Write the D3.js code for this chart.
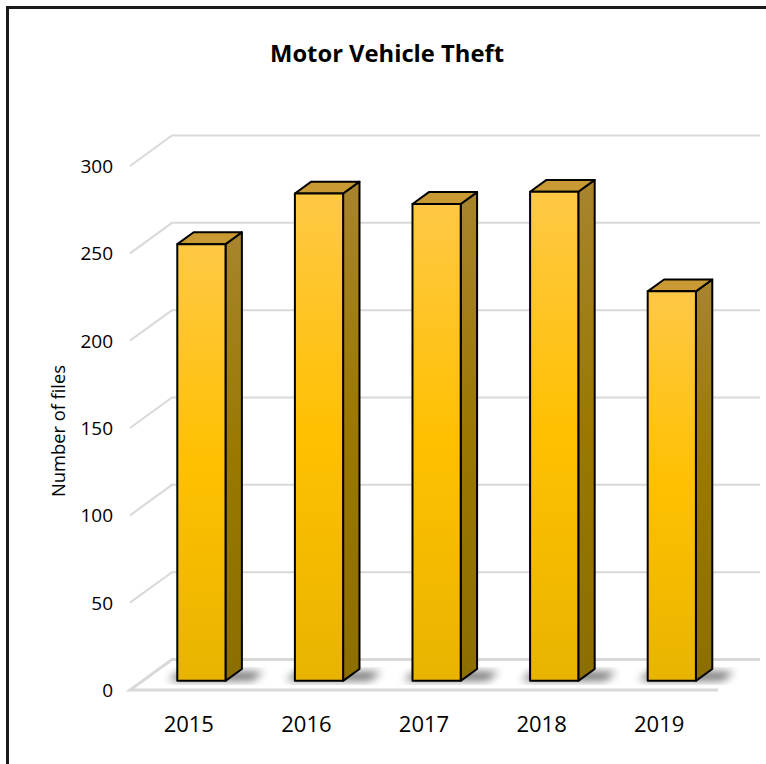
<!DOCTYPE html>
<html>
<head>
<meta charset="utf-8">
<script src="https://cdn.jsdelivr.net/npm/d3@7"></script>
<style>
  html, body { margin: 0; padding: 0; background: #fff; }
  svg { display: block; font-family: "Open Sans", "Noto Sans", sans-serif; }
</style>
</head>
<body>
<svg id="chart" width="766" height="764"></svg>
<script>
// Motor vehicle theft files per year
const years = ["2015", "2016", "2017", "2018", "2019"];
const files = [250, 279, 273, 280, 223];
const yTicks = [0, 50, 100, 150, 200, 250, 300];
const chartTitle = "Motor Vehicle Theft";
const yAxisTitle = "Number of files";

const svg = d3.select("#chart");

// Oblique 3D layout: floor front edge, wall depth offset
const floorLeft = 130, floorWidth = 588;
const depthX = 42, depthY = 30.5;

const y = d3.scaleLinear().domain([0, 300]).range([690, 166]);
const x = d3.scaleBand().domain(years).range([0, floorWidth]).padding(0);

// project (horizontal position, depth 0..1, value) to screen
const P = (h, d, v) => [floorLeft + h + d * depthX, y(v) - d * depthY];

const defs = svg.append("defs");

const frontGrad = defs.append("linearGradient").attr("id", "frontGrad")
  .attr("x1", 0).attr("y1", 0).attr("x2", 0).attr("y2", 1);
frontGrad.append("stop").attr("offset", "0%").attr("stop-color", "#ffc845");
frontGrad.append("stop").attr("offset", "50%").attr("stop-color", "#ffc000");
frontGrad.append("stop").attr("offset", "100%").attr("stop-color", "#e8b400");

const sideGrad = defs.append("linearGradient").attr("id", "sideGrad")
  .attr("x1", 0).attr("y1", 0).attr("x2", 0).attr("y2", 1);
sideGrad.append("stop").attr("offset", "0%").attr("stop-color", "#a8842e");
sideGrad.append("stop").attr("offset", "50%").attr("stop-color", "#9a7800");
sideGrad.append("stop").attr("offset", "100%").attr("stop-color", "#8c6e00");

defs.append("filter").attr("id", "shadowBlur")
  .attr("x", "-50%").attr("y", "-50%").attr("width", "200%").attr("height", "200%")
  .append("feGaussianBlur").attr("stdDeviation", 4.5);

// Outer frame
svg.append("rect")
  .attr("x", 7.5).attr("y", 7.5).attr("width", 900).attr("height", 900)
  .attr("fill", "none").attr("stroke", "#1a1a1a").attr("stroke-width", 3);

const line = d3.line();
const grid = svg.append("g").attr("fill", "none").attr("stroke", "#d9d9d9");

// Wall gridlines: side-wall diagonal + back-wall horizontal
yTicks.forEach(t => {
  if (t === 0) return;
  grid.append("path")
    .attr("stroke-width", 2)
    .attr("d", line([P(0, 0, t), P(0, 1, t), P(floorWidth, 1, t)]));
});

// Floor outline
grid.append("path").attr("stroke-width", 3)
  .attr("d", line([P(floorWidth, 1, 0), P(0, 1, 0), P(0, 0, 0), P(floorWidth, 0, 0)]));

// Bars
const barFrac = 0.41;
const d0 = 0.3, d1 = 0.69;
const bars = svg.append("g");

years.forEach((yr, i) => {
  const v = files[i];
  const bw = x.bandwidth() * barFrac;
  const h0 = x(yr) + (x.bandwidth() - bw) / 2;
  const h1 = h0 + bw;

  // soft floor shadow
  bars.append("path")
    .attr("d", line([P(h0 - 10, d0 + 0.02, 0), P(h1 + 26, d0 + 0.02, 0),
                     P(h1 + 26, d1 - 0.1, 0), P(h0 - 10, d1 - 0.1, 0)]) + "Z")
    .attr("fill", "#000").attr("opacity", 0.6)
    .attr("filter", "url(#shadowBlur)");

  const g = bars.append("g")
    .attr("stroke", "#000").attr("stroke-width", 2).attr("stroke-linejoin", "round");

  // side face
  g.append("path")
    .attr("d", line([P(h1, d0, 0), P(h1, d1, 0), P(h1, d1, v), P(h1, d0, v)]) + "Z")
    .attr("fill", "url(#sideGrad)");
  // top face
  g.append("path")
    .attr("d", line([P(h0, d0, v), P(h1, d0, v), P(h1, d1, v), P(h0, d1, v)]) + "Z")
    .attr("fill", "#c99a33");
  // front face
  const [fx0, fy0] = P(h0, d0, v);
  const [fx1, fy1] = P(h1, d0, 0);
  g.append("rect")
    .attr("x", fx0).attr("y", fy0)
    .attr("width", fx1 - fx0).attr("height", fy1 - fy0)
    .attr("fill", "url(#frontGrad)");
});

// Y axis tick labels
svg.append("g")
  .selectAll("text").data(yTicks).join("text")
  .attr("x", 113)
  .attr("y", d => y(d))
  .attr("text-anchor", "end")
  .attr("dominant-baseline", "central")
  .attr("font-size", 19)
  .attr("fill", "#000")
  .text(d => d);

// Category labels
svg.append("g")
  .selectAll("text").data(years).join("text")
  .attr("x", d => floorLeft + x(d) + x.bandwidth() / 2)
  .attr("y", 732)
  .attr("text-anchor", "middle")
  .attr("font-size", 22)
  .attr("fill", "#000")
  .text(d => d);

// size a label so it spans the given width
function fitWidth(sel, width) {
  const len = sel.node().getComputedTextLength();
  const fs = parseFloat(sel.attr("font-size"));
  sel.attr("font-size", fs * width / len);
}

const title = svg.append("text")
  .attr("x", 387).attr("y", 62)
  .attr("text-anchor", "middle")
  .attr("font-size", 22).attr("font-weight", "bold")
  .attr("fill", "#000")
  .text(chartTitle);
fitWidth(title, 234);

const yTitle = svg.append("text")
  .attr("transform", "translate(65,431) rotate(-90)")
  .attr("text-anchor", "middle")
  .attr("font-size", 16)
  .attr("fill", "#000")
  .text(yAxisTitle);
fitWidth(yTitle, 132);
</script>
</body>
</html>
